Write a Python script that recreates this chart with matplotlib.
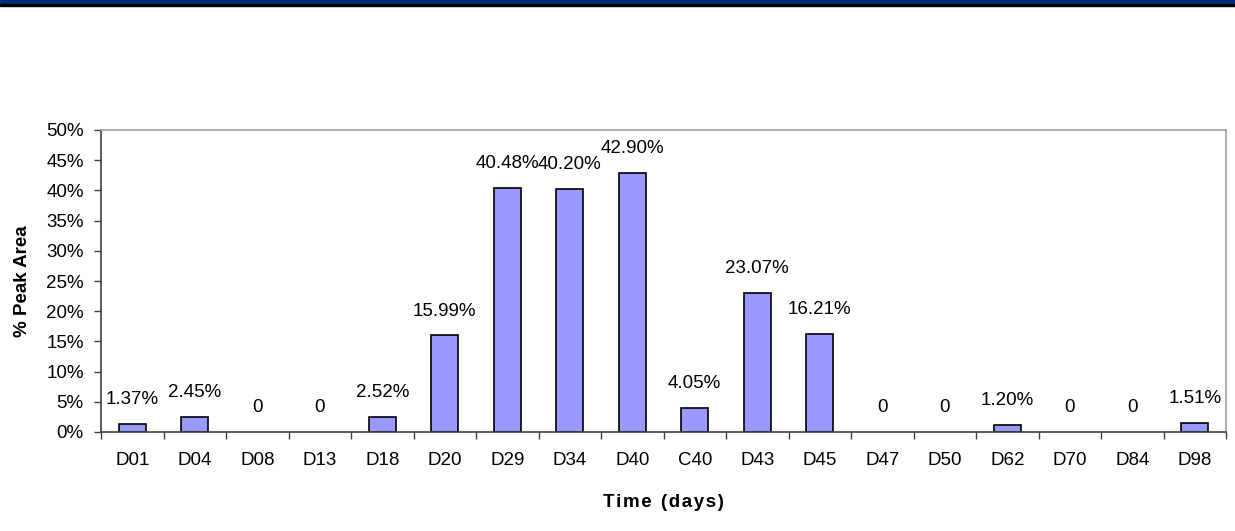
import numpy as np
import matplotlib as mpl
mpl.use("Agg")
import matplotlib.pyplot as plt
from matplotlib.patches import Rectangle
from matplotlib.ticker import MultipleLocator, PercentFormatter

mpl.rcParams["font.family"] = ["Liberation Sans", "DejaVu Sans"]

categories = ["D01", "D04", "D08", "D13", "D18", "D20", "D29", "D34", "D40",
              "C40", "D43", "D45", "D47", "D50", "D62", "D70", "D84", "D98"]
values = [1.37, 2.45, 0, 0, 2.52, 15.99, 40.48, 40.20, 42.90,
          4.05, 23.07, 16.21, 0, 0, 1.20, 0, 0, 1.51]
labels = ["1.37%", "2.45%", "0", "0", "2.52%", "15.99%", "40.48%", "40.20%", "42.90%",
          "4.05%", "23.07%", "16.21%", "0", "0", "1.20%", "0", "0", "1.51%"]

W, H = 1235, 531
FS = 13.5
fig = plt.figure(figsize=(W / 100, H / 100), dpi=100)

# header band
fig.patches.append(Rectangle((0, 1 - 4 / H), 1, 4 / H, transform=fig.transFigure,
                             color="#002B7F", zorder=0))
fig.patches.append(Rectangle((0, 1 - 6 / H), 1, 2 / H, transform=fig.transFigure,
                             color="black", zorder=0))

ax = fig.add_axes([101 / W, 1 - 432 / H, 1125 / W, 302 / H])
x = np.arange(len(categories))
edges = ["black" if v > 0 else "none" for v in values]
ax.bar(x, values, width=0.43, color="#9999FF", edgecolor=edges, linewidth=1.2)
for xi, v, lab in zip(x, values, labels):
    ax.annotate(lab, (xi, v), xytext=(0, 17.5), textcoords="offset points",
                ha="center", va="center", fontsize=FS)

ax.set_xlim(-0.5, len(categories) - 0.5)
ax.set_ylim(0, 50)
ax.yaxis.set_major_locator(MultipleLocator(5))
ax.yaxis.set_major_formatter(PercentFormatter(decimals=0))
ax.set_xticks(x)
ax.set_xticklabels(categories)
ax.set_xticks(np.arange(-0.5, len(categories)), minor=True)
ax.tick_params(axis="x", which="major", length=0, pad=14.5, labelsize=FS)
ax.tick_params(axis="x", which="minor", length=5, width=1, color="#404040")
ax.tick_params(axis="y", length=5, width=1, color="#404040", labelsize=FS, pad=7.5)

for s in ["top", "right"]:
    ax.spines[s].set_color("#A0A0A0")
    ax.spines[s].set_linewidth(1.2)
for s in ["left", "bottom"]:
    ax.spines[s].set_color("#404040")
    ax.spines[s].set_linewidth(1.2)

ax.set_ylabel("% Peak Area", fontsize=FS, fontweight="bold", labelpad=11)
ax.set_xlabel("T i m e  ( d a y s )".replace("  ", "\u2002").replace(" ", "\u200a"),
              fontsize=FS, fontweight="bold", labelpad=18)

fig.savefig("out.png", dpi=100)
